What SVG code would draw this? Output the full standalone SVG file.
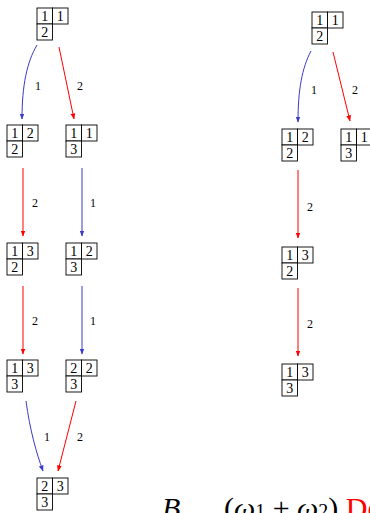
<svg xmlns="http://www.w3.org/2000/svg" width="370" height="513" viewBox="0 0 370 513">
<style>
.c{fill:#fff;stroke:#000;stroke-width:0.9}
.n{font-family:"Liberation Serif",serif;font-size:14px;text-anchor:middle;fill:#000}
.l{font-family:"Liberation Serif",serif;font-size:12px;text-anchor:middle;fill:#000}
.b{fill:none;stroke:#3a3ac6;stroke-width:1}
.r{fill:none;stroke:#ff0000;stroke-width:1}
.m{font-family:"Liberation Serif",serif;font-size:30px;fill:#000}
</style>
<defs>
<marker id="hb" viewBox="0 0 6 6" refX="5.5" refY="3" markerWidth="6" markerHeight="6" markerUnits="userSpaceOnUse" orient="auto"><path d="M0,0.6 L6,3 L0,5.4 Z" fill="#3a3ac6"/></marker>
<marker id="hr" viewBox="0 0 6 6" refX="5.5" refY="3" markerWidth="6" markerHeight="6" markerUnits="userSpaceOnUse" orient="auto"><path d="M0,0.6 L6,3 L0,5.4 Z" fill="#ff0000"/></marker>
</defs>
<g id="t0" transform="translate(37,8)"><rect class="c" x="0" y="0" width="15.5" height="16"/><rect class="c" x="15.5" y="0" width="15.5" height="16"/><rect class="c" x="0" y="16" width="15.5" height="16"/><text class="n" x="7.75" y="13">1</text><text class="n" x="23.25" y="13">1</text><text class="n" x="7.75" y="29">2</text></g>
<g id="t1" transform="translate(7,125)"><rect class="c" x="0" y="0" width="15.5" height="16"/><rect class="c" x="15.5" y="0" width="15.5" height="16"/><rect class="c" x="0" y="16" width="15.5" height="16"/><text class="n" x="7.75" y="13">1</text><text class="n" x="23.25" y="13">2</text><text class="n" x="7.75" y="29">2</text></g>
<g id="t2" transform="translate(66,125)"><rect class="c" x="0" y="0" width="15.5" height="16"/><rect class="c" x="15.5" y="0" width="15.5" height="16"/><rect class="c" x="0" y="16" width="15.5" height="16"/><text class="n" x="7.75" y="13">1</text><text class="n" x="23.25" y="13">1</text><text class="n" x="7.75" y="29">3</text></g>
<g id="t3" transform="translate(7,243)"><rect class="c" x="0" y="0" width="15.5" height="16"/><rect class="c" x="15.5" y="0" width="15.5" height="16"/><rect class="c" x="0" y="16" width="15.5" height="16"/><text class="n" x="7.75" y="13">1</text><text class="n" x="23.25" y="13">3</text><text class="n" x="7.75" y="29">2</text></g>
<g id="t4" transform="translate(66,243)"><rect class="c" x="0" y="0" width="15.5" height="16"/><rect class="c" x="15.5" y="0" width="15.5" height="16"/><rect class="c" x="0" y="16" width="15.5" height="16"/><text class="n" x="7.75" y="13">1</text><text class="n" x="23.25" y="13">2</text><text class="n" x="7.75" y="29">3</text></g>
<g id="t5" transform="translate(7,360)"><rect class="c" x="0" y="0" width="15.5" height="16"/><rect class="c" x="15.5" y="0" width="15.5" height="16"/><rect class="c" x="0" y="16" width="15.5" height="16"/><text class="n" x="7.75" y="13">1</text><text class="n" x="23.25" y="13">3</text><text class="n" x="7.75" y="29">3</text></g>
<g id="t6" transform="translate(66,360)"><rect class="c" x="0" y="0" width="15.5" height="16"/><rect class="c" x="15.5" y="0" width="15.5" height="16"/><rect class="c" x="0" y="16" width="15.5" height="16"/><text class="n" x="7.75" y="13">2</text><text class="n" x="23.25" y="13">2</text><text class="n" x="7.75" y="29">3</text></g>
<g id="t7" transform="translate(37,478)"><rect class="c" x="0" y="0" width="15.5" height="16"/><rect class="c" x="15.5" y="0" width="15.5" height="16"/><rect class="c" x="0" y="16" width="15.5" height="16"/><text class="n" x="7.75" y="13">2</text><text class="n" x="23.25" y="13">3</text><text class="n" x="7.75" y="29">3</text></g>
<g id="r0" transform="translate(312,12)"><rect class="c" x="0" y="0" width="15.5" height="16"/><rect class="c" x="15.5" y="0" width="15.5" height="16"/><rect class="c" x="0" y="16" width="15.5" height="16"/><text class="n" x="7.75" y="13">1</text><text class="n" x="23.25" y="13">1</text><text class="n" x="7.75" y="29">2</text></g>
<g id="r1" transform="translate(282,129)"><rect class="c" x="0" y="0" width="15.5" height="16"/><rect class="c" x="15.5" y="0" width="15.5" height="16"/><rect class="c" x="0" y="16" width="15.5" height="16"/><text class="n" x="7.75" y="13">1</text><text class="n" x="23.25" y="13">2</text><text class="n" x="7.75" y="29">2</text></g>
<g id="r2" transform="translate(341,129)"><rect class="c" x="0" y="0" width="15.5" height="16"/><rect class="c" x="15.5" y="0" width="15.5" height="16"/><rect class="c" x="0" y="16" width="15.5" height="16"/><text class="n" x="7.75" y="13">1</text><text class="n" x="23.25" y="13">1</text><text class="n" x="7.75" y="29">3</text></g>
<g id="r3" transform="translate(282,247)"><rect class="c" x="0" y="0" width="15.5" height="16"/><rect class="c" x="15.5" y="0" width="15.5" height="16"/><rect class="c" x="0" y="16" width="15.5" height="16"/><text class="n" x="7.75" y="13">1</text><text class="n" x="23.25" y="13">3</text><text class="n" x="7.75" y="29">2</text></g>
<g id="r4" transform="translate(282,364)"><rect class="c" x="0" y="0" width="15.5" height="16"/><rect class="c" x="15.5" y="0" width="15.5" height="16"/><rect class="c" x="0" y="16" width="15.5" height="16"/><text class="n" x="7.75" y="13">1</text><text class="n" x="23.25" y="13">3</text><text class="n" x="7.75" y="29">3</text></g>
<g id="connectors">
<path class="b" d="M37,45 C27,62 22,85 22,119" marker-end="url(#hb)"/>
<path class="r" d="M59,47 L74,119" marker-end="url(#hr)"/>
<path class="r" d="M23,168 L23,236" marker-end="url(#hr)"/>
<path class="b" d="M82,168 L82,236" marker-end="url(#hb)"/>
<path class="r" d="M23,286 L23,354" marker-end="url(#hr)"/>
<path class="b" d="M82,286 L82,354" marker-end="url(#hb)"/>
<path class="b" d="M26,401 C30,430 36,452 43,471" marker-end="url(#hb)"/>
<path class="r" d="M76,401 L58,471" marker-end="url(#hr)"/>
<path class="b" d="M311,51 C302,68 298,90 298,122" marker-end="url(#hb)"/>
<path class="r" d="M333,52 L350,121" marker-end="url(#hr)"/>
<path class="r" d="M298,170 L298,238" marker-end="url(#hr)"/>
<path class="r" d="M298,288 L298,356" marker-end="url(#hr)"/>
<text class="l" x="38" y="90">1</text>
<text class="l" x="80" y="90">2</text>
<text class="l" x="35" y="207">2</text>
<text class="l" x="93" y="207">1</text>
<text class="l" x="35" y="325">2</text>
<text class="l" x="93" y="325">1</text>
<text class="l" x="47" y="441">1</text>
<text class="l" x="80" y="441">2</text>
<text class="l" x="314" y="94">1</text>
<text class="l" x="355" y="94">2</text>
<text class="l" x="310" y="211">2</text>
<text class="l" x="310" y="328">2</text>
</g>
<text class="m" x="162" y="518" font-style="italic">B</text>
<text class="m" x="224" y="518">(<tspan font-style="italic">ω</tspan><tspan font-size="20">1</tspan> + <tspan font-style="italic">ω</tspan><tspan font-size="20">2</tspan>) <tspan fill="#ff0000">De</tspan></text>
</svg>
